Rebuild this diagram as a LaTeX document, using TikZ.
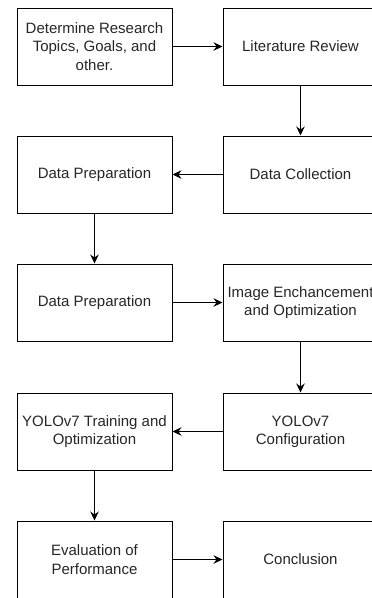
\documentclass[tikz,border=0pt]{standalone}
\usepackage{fontspec}
\setmainfont{Liberation Sans}
\usetikzlibrary{arrows.meta}
\begin{document}
\begin{tikzpicture}[x=1pt,y=1pt,
  stepbox/.style={draw=black, line width=1pt, minimum width=155pt, minimum height=77pt, inner sep=0pt, align=center, text=black!85, font=\fontsize{15}{18.3}\selectfont},
  flow/.style={draw=black, line width=1pt, -{Stealth[length=9pt,width=8.5pt,inset=3pt]}}]
\useasboundingbox (0,0) rectangle (372,-598);
\clip (0,0) rectangle (372,-598);
\node[stepbox] (n1) at (94.5,-46.5) {Determine Research\\Topics, Goals, and\\other.};
\node[stepbox] (n2) at (300.5,-46.5) {Literature Review};
\node[stepbox] (n3) at (94.5,-174.5) {Data Preparation};
\node[stepbox] (n4) at (300.5,-174.5) {Data Collection};
\node[stepbox] (n5) at (94.5,-302.5) {Data Preparation};
\node[stepbox] (n6) at (300.5,-302.5) {Image Enchancement\\and Optimization};
\node[stepbox] (n7) at (94.5,-431.5) {YOLOv7 Training and\\Optimization};
\node[stepbox] (n8) at (300.5,-431.5) {YOLOv7\\Configuration};
\node[stepbox] (n9) at (94.5,-559.5) {Evaluation of\\Performance};
\node[stepbox] (n10) at (300.5,-559.5) {Conclusion};
\draw[flow] (n1) -- (n2);
\draw[flow] (n2) -- (n4);
\draw[flow] (n4) -- (n3);
\draw[flow] (n3) -- (n5);
\draw[flow] (n5) -- (n6);
\draw[flow] (n6) -- (n8);
\draw[flow] (n8) -- (n7);
\draw[flow] (n7) -- (n9);
\draw[flow] (n9) -- (n10);
\end{tikzpicture}
\end{document}
